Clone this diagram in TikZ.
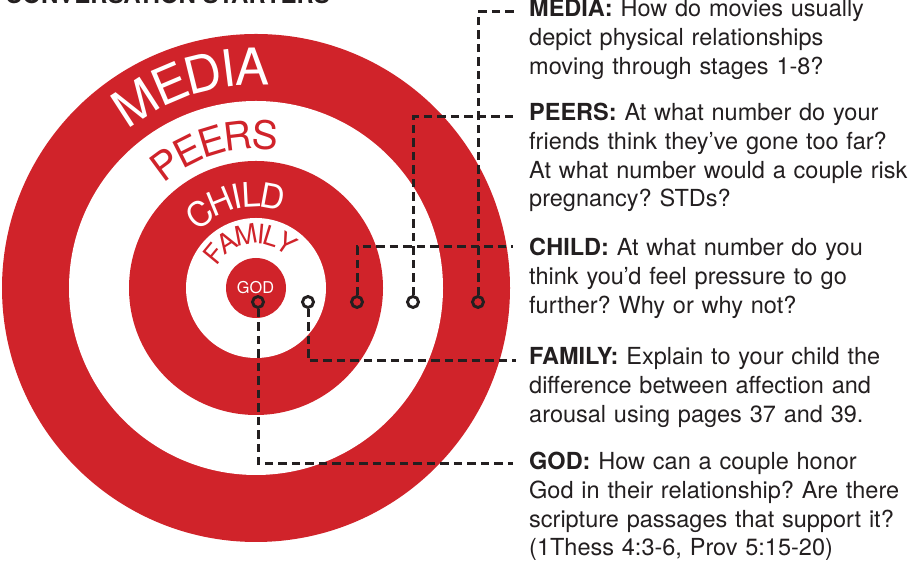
\documentclass[tikz,border=0pt]{standalone}
\usepackage{fontspec}
\setmainfont{TeX Gyre Heros}
\usetikzlibrary{decorations.text}
\definecolor{tred}{RGB}{208,35,42}
\definecolor{ink}{RGB}{35,31,32}
\newcommand{\fmedia}{\fontsize{51}{51}\selectfont}
\newcommand{\fpeers}{\fontsize{39}{39}\selectfont}
\newcommand{\fchild}{\fontsize{34}{34}\selectfont}
\newcommand{\ffamily}{\fontsize{27}{27}\selectfont}
\frenchspacing
\begin{document}
\begin{tikzpicture}[x=1pt,y=1pt,
  conn/.style={draw=ink, line width=3pt, dash pattern=on 8.5pt off 5pt},
  dot/.style={circle, draw=ink, line width=2.9pt, minimum size=11pt, inner sep=0pt},
  qtext/.style={anchor=base west, text width=395pt, align=left, inner sep=0pt,
    font=\fontsize{23.5}{28.6}\selectfont, text=ink},
  ringlabel/.style={decorate, decoration={text along path, text align=center, text color=#1}}]
\useasboundingbox (0,0) rectangle (924,561);
\clip (0,0) rectangle (924,561);
\coordinate (c) at (256,273);
% target rings
\fill[tred] (c) circle (254);
\fill[white] (c) circle (187);
\fill[tred] (c) circle (127);
\fill[white] (c) circle (70);
\fill[tred] (c) circle (30);
% ring labels
\path[ringlabel=white, decoration={raise=-18.5pt, text={|\fmedia|MEDIA}}] ([shift={(157.5:221.5)}]c) arc (157.5:57.5:221.5);
\path[ringlabel=tred, decoration={raise=-14pt, text={|\fpeers|PEERS}}] ([shift={(161.5:153)}]c) arc (161.5:51.5:153);
\path[ringlabel=white, decoration={raise=-12pt, text={|\fchild|CHILD}}] ([shift={(173.5:93)}]c) arc (173.5:33.5:93);
\path[ringlabel=tred, decoration={raise=-9.5pt, text={|\ffamily|FAMILY}}] ([shift={(187.5:54)}]c) arc (187.5:7.5:54);
\node[text=white, font=\fontsize{16.3}{16.3}\selectfont] (god) at (255.5,273.5) {GOD};
% title
\node[anchor=base west, inner sep=0pt, font=\bfseries\fontsize{24}{24}\selectfont, text=ink] (title) at (5,557.5) {CONVERSATION STARTERS};
% question texts
\node[qtext] (tMedia) at (529,544) {\textbf{MEDIA:} How do movies usually\\depict physical relationships\\moving through stages 1-8?};
\node[qtext] (tPeers) at (529,440) {\textbf{PEERS:} At what number do your\\friends think they’ve gone too far?\\At what number would a couple risk\\pregnancy? STDs?};
\node[qtext] (tChild) at (529,305) {\textbf{CHILD:} At what number do you\\think you’d feel pressure to go\\further? Why or why not?};
\node[qtext] (tFamily) at (529,196) {\textbf{FAMILY:} Explain to your child the\\difference between affection and\\arousal using pages 37 and 39.};
\node[qtext] (tGod) at (529,91) {\textbf{GOD:} How can a couple honor\\God in their relationship? Are there\\scripture passages that support it?\\(1Thess 4:3-6, Prov 5:15-20)};
% dots
\node[dot] (dGod) at (258,259) {};
\node[dot] (dFamily) at (308,259) {};
\node[dot] (dChild) at (357,259) {};
\node[dot] (dPeers) at (413,259) {};
\node[dot] (dMedia) at (478,259) {};
% connector ends
\coordinate (eMedia) at (517,549);
\coordinate (ePeers) at (515,444);
\coordinate (eChild) at (513,314);
\coordinate (eFamily) at (516,200);
\coordinate (eGod) at (513,97);
% connectors
\draw[conn] (dMedia.north) |- (eMedia);
\draw[conn] (dPeers.north) |- (ePeers);
\draw[conn] (dChild.north) |- (eChild);
\draw[conn] (dFamily.south) |- (eFamily);
\draw[conn] (dGod.south) |- (eGod);
\end{tikzpicture}
\end{document}
